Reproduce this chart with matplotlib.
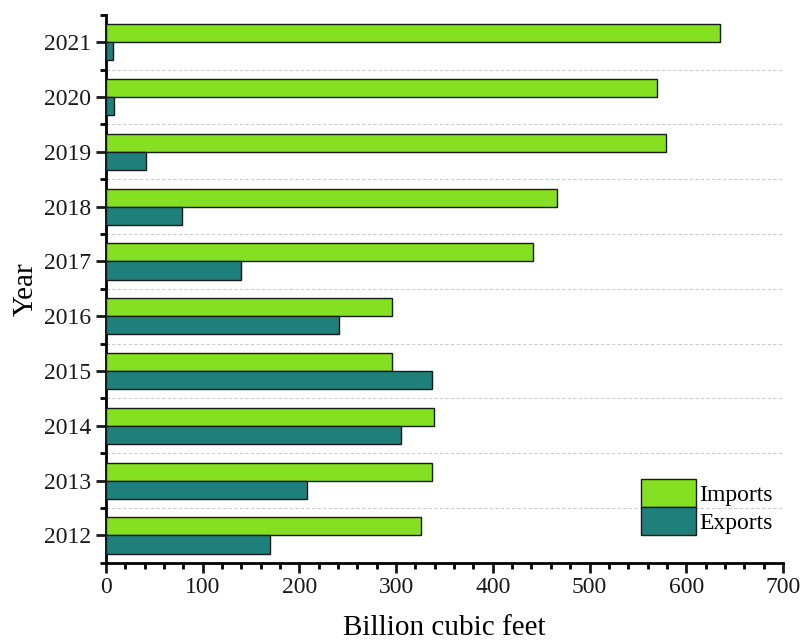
import matplotlib.pyplot as plt
import numpy as np
from matplotlib.ticker import MultipleLocator

years = [2012, 2013, 2014, 2015, 2016, 2017, 2018, 2019, 2020, 2021]
imports = [326, 337, 339, 296, 296, 442, 466, 579, 570, 635]
exports = [170, 208, 305, 337, 241, 140, 79, 41, 8, 7]

plt.rcParams['font.family'] = ['Liberation Serif', 'DejaVu Serif']

fig = plt.figure(figsize=(8.03, 6.44), dpi=100)
ax = fig.add_axes([0.132, 0.126, 0.843, 0.851])

y = np.array(years)
h = 0.33
ax.barh(y + h / 2, imports, height=h, color='#84E021', edgecolor='#1a1a1a',
        linewidth=1.0, label='Imports', zorder=3)
ax.barh(y - h / 2, exports, height=h, color='#1F7F7A', edgecolor='#1a1a1a',
        linewidth=1.0, label='Exports', zorder=3)

ax.set_xlim(0, 700)
ax.set_ylim(2011.5, 2021.5)
ax.set_yticks(years)
ax.set_yticklabels([str(v) for v in years])
ax.yaxis.set_minor_locator(MultipleLocator(0.5))
ax.xaxis.set_major_locator(MultipleLocator(100))
ax.xaxis.set_minor_locator(MultipleLocator(20))

# dashed separators between years
for yy in np.arange(2012.5, 2021.5, 1.0):
    ax.axhline(yy, color='#cccccc', linestyle=(0, (3, 2)), linewidth=0.8, zorder=1)

for side in ['top', 'right']:
    ax.spines[side].set_visible(False)
for side in ['left', 'bottom']:
    ax.spines[side].set_linewidth(2)

ax.tick_params(axis='both', which='major', direction='out', length=7, width=2,
               labelsize=17, colors='#1a1a1a')
ax.tick_params(axis='both', which='minor', direction='out', length=4, width=2)

ax.set_xlabel('Billion cubic feet', fontsize=21, labelpad=12)
ax.set_ylabel('Year', fontsize=21, labelpad=4)

ax.legend(loc='lower right', bbox_to_anchor=(0.985, 0.05), frameon=False,
          fontsize=17, handlelength=2.3, handleheight=1.45, labelspacing=0.0,
          handletextpad=0.15, borderpad=0, borderaxespad=0)

fig.savefig('out.png', dpi=100)
